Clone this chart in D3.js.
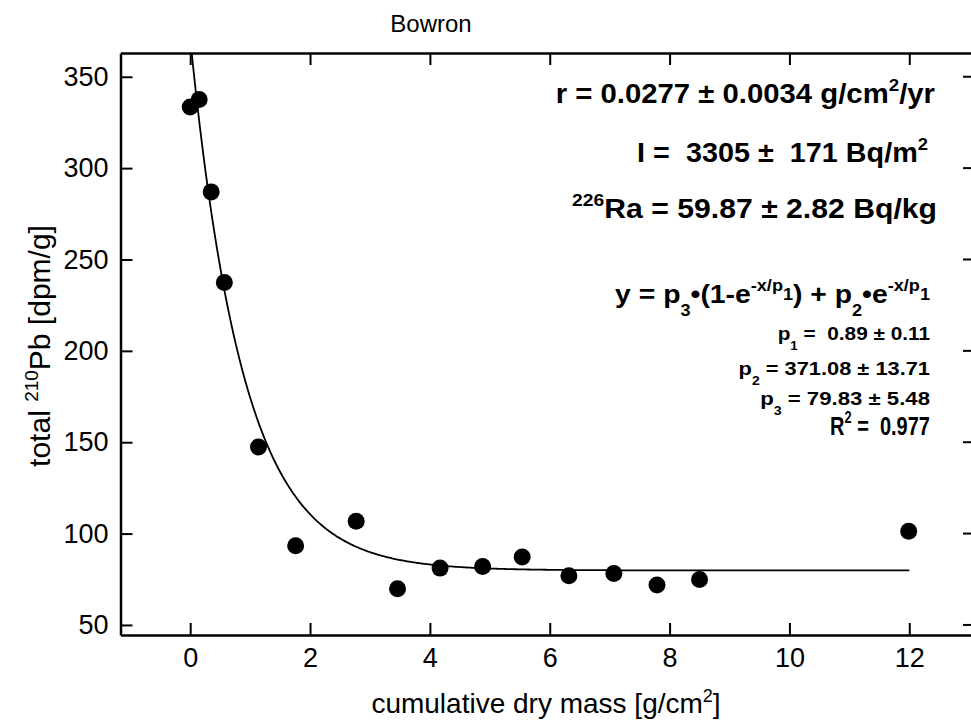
<!DOCTYPE html>
<html>
<head>
<meta charset="utf-8">
<script src="https://cdn.jsdelivr.net/npm/d3@7"></script>
<style>
  html, body { margin: 0; padding: 0; background: #fff; overflow: hidden; }
  svg { display: block; font-family: "Liberation Sans", Arial, sans-serif; }
</style>
</head>
<body>
<div id="chart"></div>
<script>
const massX = [0, 0.15, 0.35, 0.57, 1.14, 1.76, 2.77, 3.46, 4.17, 4.88, 5.54, 6.32, 7.07, 7.79, 8.50, 11.99];
const pb210 = [333.4, 337.6, 287, 237.4, 147.4, 93.4, 106.7, 69.8, 81.1, 82, 87.2, 76.9, 78.2, 71.8, 74.9, 101.3];

// Fit parameters as printed on the chart
const p1 = 0.89, p2 = 371.08, p3 = 79.83;
const fitRange = [0, 12];

const xTicks = [0, 2, 4, 6, 8, 10, 12];
const yTicks = [50, 100, 150, 200, 250, 300, 350];

const title = "Bowron";

// Annotation lines, each a list of text segments (n = normal, sup, sub, supsub)
const annotationLines = [
  [["n", "r = 0.0277 ± 0.0034 g/cm"], ["sup", "2"], ["n", "/yr"]],
  [["n", "I =  3305 ±  171 Bq/m"], ["sup", "2"]],
  [["sup", "226"], ["n", "Ra = 59.87 ± 2.82 Bq/kg"]],
  [["n", "y = p"], ["sub", "3"], ["n", "•(1-e"], ["sup", "-x/p"], ["supsub", "1"], ["n", ") + p"], ["sub", "2"], ["n", "•e"], ["sup", "-x/p"], ["supsub", "1"]],
  [["n", "p"], ["sub", "1"], ["n", " =  0.89 ± 0.11"]],
  [["n", "p"], ["sub", "2"], ["n", " = 371.08 ± 13.71"]],
  [["n", "p"], ["sub", "3"], ["n", " = 79.83 ± 5.48"]],
  [["n", "R"], ["sup", "2"], ["n", " =  0.977"]]
];

const margin = {top: 53, right: -3, bottom: 87, left: 120.5},
      W = 971, H = 722,
      width = W - margin.left - margin.right,
      height = H - margin.top - margin.bottom;

const svg = d3.select("#chart")
  .append("svg")
    .attr("width", W)
    .attr("height", H)
    .style("overflow", "hidden");

const g = svg.append("g")
    .attr("transform", `translate(${margin.left},${margin.top})`);

const x = d3.scaleLinear().domain([-1.163, 13.08]).range([0, width]);
const y = d3.scaleLinear().domain([44.5, 363]).range([height, 0]);

svg.append("defs").append("clipPath").attr("id", "plotclip")
  .append("rect").attr("width", width).attr("height", height);

function styleAxis(sel, fontSize) {
  sel.select(".domain").attr("stroke", "#000").attr("stroke-width", 2.5);
  sel.selectAll(".tick line").attr("stroke", "#000").attr("stroke-width", 2);
  sel.selectAll(".tick text")
    .attr("fill", "#000")
    .style("font-size", fontSize + "px")
    .style("font-family", "'Liberation Sans', Arial, sans-serif");
}

// bottom and left axes, ticks pointing inward
g.append("g")
  .attr("transform", `translate(0,${height})`)
  .call(d3.axisBottom(x).tickValues(xTicks).tickSize(-12).tickSizeOuter(0).tickPadding(13))
  .call(s => styleAxis(s, 27));

g.append("g")
  .call(d3.axisLeft(y).tickValues(yTicks).tickSize(-12).tickSizeOuter(0).tickPadding(12))
  .call(s => styleAxis(s, 27));

// top frame with ticks
g.append("g")
  .call(d3.axisTop(x).tickValues(xTicks).tickSize(-12).tickSizeOuter(0).tickFormat(""))
  .call(s => styleAxis(s, 27));

// right frame lies past the picture edge, only short tick stubs are seen
g.append("g").selectAll("line")
  .data(yTicks)
  .enter().append("line")
    .attr("x1", width - 11).attr("x2", width)
    .attr("y1", d => y(d)).attr("y2", d => y(d))
    .attr("stroke", "#000")
    .attr("stroke-width", 2);

// Fit curve
const fit = v => p3 * (1 - Math.exp(-v / p1)) + p2 * Math.exp(-v / p1);
const curveX = d3.range(fitRange[0], fitRange[1] + 0.001, 0.02);
g.append("path")
  .datum(curveX)
  .attr("clip-path", "url(#plotclip)")
  .attr("fill", "none")
  .attr("stroke", "#000")
  .attr("stroke-width", 1.8)
  .attr("d", d3.line().x(d => x(d)).y(d => y(fit(d))));

// Data points
g.selectAll(".dot")
  .data(massX.map((m, i) => ({m, v: pb210[i]})))
  .enter().append("circle")
    .attr("class", "dot")
    .attr("cx", d => x(d.m))
    .attr("cy", d => y(d.v))
    .attr("r", 8.5)
    .attr("fill", "#000");

// Title and axis labels
svg.append("text")
  .attr("x", 431).attr("y", 32)
  .attr("text-anchor", "middle")
  .style("font-size", "24px")
  .text(title);

const xl = svg.append("text")
  .attr("x", 546).attr("y", 713)
  .attr("text-anchor", "middle")
  .style("font-size", "28px");
xl.append("tspan").text("cumulative dry mass [g/cm");
xl.append("tspan").attr("dy", -11).style("font-size", "18px").text("2");
xl.append("tspan").attr("dy", 11).text("]");

const yl = svg.append("text")
  .attr("transform", "translate(50,346) rotate(-90)")
  .attr("text-anchor", "middle")
  .style("font-size", "30px");
yl.append("tspan").text("total ");
yl.append("tspan").attr("dy", -12).style("font-size", "19px").text("210");
yl.append("tspan").attr("dy", 12).text("Pb [dpm/g]");

// Annotations: right-aligned, squeezed/stretched to the widths seen in the chart
function richText(parent, segs, size) {
  const t = parent.append("text")
    .attr("text-anchor", "end")
    .style("white-space", "pre")
    .style("font-weight", "bold")
    .style("font-size", size + "px");
  const off = {n: 0, sup: -0.45 * size, sub: 0.5 * size, supsub: -0.1 * size};
  const sz = {n: size, sup: size * 0.64, sub: size * 0.64, supsub: size * 0.64};
  let cur = 0;
  segs.forEach(([kind, str]) => {
    t.append("tspan")
      .attr("dy", off[kind] - cur)
      .style("font-size", sz[kind] + "px")
      .text(str);
    cur = off[kind];
  });
  return t;
}

const annLayout = [
  {right: 935, base: 103, w: 380, size: 27},
  {right: 928, base: 162, w: 291, size: 27},
  {right: 937, base: 218, w: 365, size: 27},
  {right: 930, base: 303, w: 315, size: 26},
  {right: 930, base: 340, w: 153, size: 19},
  {right: 930, base: 375, w: 192, size: 19},
  {right: 930, base: 405, w: 170, size: 19},
  {right: 930, base: 435, w: 100, size: 26}
];

annotationLines.forEach((segs, i) => {
  const L = annLayout[i];
  const grp = svg.append("g");
  const t = richText(grp, segs, L.size);
  const bw = t.node().getBBox().width;
  const sx = L.w / bw;
  grp.attr("transform", `translate(${L.right},${L.base}) scale(${sx},1)`);
});
</script>
</body>
</html>
